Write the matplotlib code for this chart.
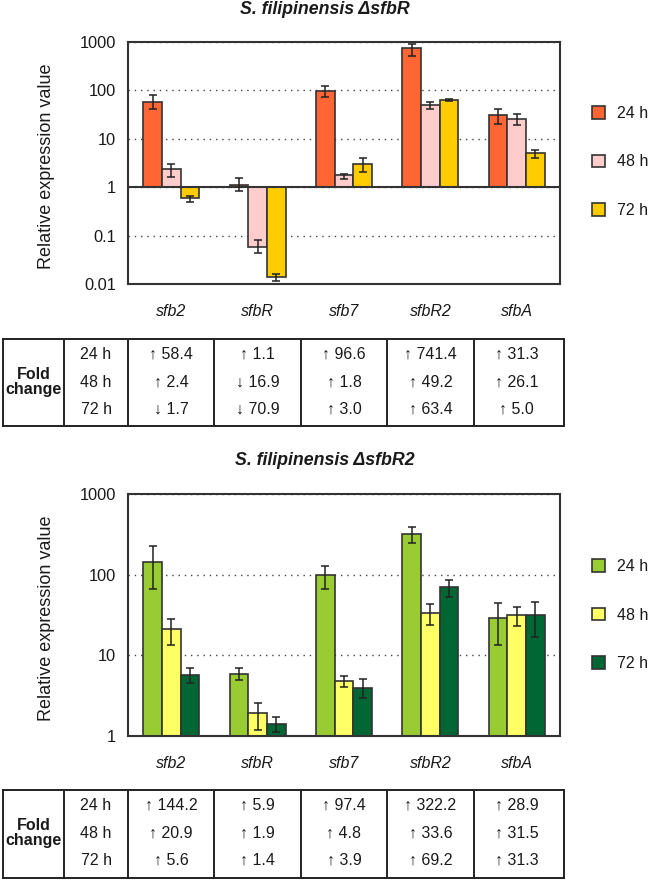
import matplotlib
matplotlib.use('Agg')
import matplotlib.pyplot as plt
from matplotlib.patches import Patch

plt.rcParams['font.family'] = ['Liberation Sans', 'DejaVu Sans']

genes = ['sfb2', 'sfbR', 'sfb7', 'sfbR2', 'sfbA']
times = ['24 h', '48 h', '72 h']

# ---- Panel A: S. filipinensis ΔsfbR ----
fold_A_24 = [58.4, 1.1, 96.6, 741.4, 31.3]
fold_A_48 = [2.4, 16.9, 1.8, 49.2, 26.1]
fold_A_72 = [1.7, 70.9, 3.0, 63.4, 5.0]
dir_A_24 = [1, 1, 1, 1, 1]
dir_A_48 = [1, -1, 1, 1, 1]
dir_A_72 = [-1, -1, 1, 1, 1]
errlo_A_24 = [42, 0.83, 74, 514, 20.3]
errhi_A_24 = [80, 1.56, 122, 897, 41.5]
errlo_A_48 = [1.66, 0.043, 1.49, 41, 19.3]
errhi_A_48 = [3.05, 0.081, 1.89, 57, 32]
errlo_A_72 = [0.50, 0.0116, 2.05, 60, 4.06]
errhi_A_72 = [0.65, 0.0164, 4.06, 67, 5.95]
colors_A = ['#FF6633', '#FFCCCC', '#FFCC00']
yticks_A = [0.01, 0.1, 1, 10, 100, 1000]
yticklabels_A = ['0.01', '0.1', '1', '10', '100', '1000']

# ---- Panel B: S. filipinensis ΔsfbR2 ----
fold_B_24 = [144.2, 5.9, 97.4, 322.2, 28.9]
fold_B_48 = [20.9, 1.9, 4.8, 33.6, 31.5]
fold_B_72 = [5.6, 1.4, 3.9, 69.2, 31.3]
dir_B_24 = [1, 1, 1, 1, 1]
dir_B_48 = [1, 1, 1, 1, 1]
dir_B_72 = [1, 1, 1, 1, 1]
errlo_B_24 = [65.5, 4.91, 65.5, 248, 13.3]
errhi_B_24 = [226, 6.98, 128.6, 392, 44.3]
errlo_B_48 = [13.3, 1.18, 4.05, 23.6, 23.2]
errhi_B_48 = [28.3, 2.57, 5.55, 43, 39.5]
errlo_B_72 = [4.47, 1.12, 2.94, 53, 16.9]
errhi_B_72 = [6.86, 1.69, 5.0, 85.5, 45.6]
colors_B = ['#99CC33', '#FFFF66', '#006633']
yticks_B = [1, 10, 100, 1000]
yticklabels_B = ['1', '10', '100', '1000']

W, H = 650, 881
FS = 11.5
EDGE = '#333333'
TXT = '#1a1a1a'

fig = plt.figure(figsize=(W / 100, H / 100), dpi=100)


def fx(px):
    return px / W


def fy(py):
    return 1 - py / H


def draw_panel(top_px, bot_px, folds, dirs, errlo, errhi, colors, yticks, yticklabels,
               title, title_px, legend_center_px, baseline):
    ax = fig.add_axes([fx(128), fy(bot_px), fx(560) - fx(128), fy(top_px) - fy(bot_px)])
    ax.set_yscale('log')
    ax.set_xlim(-0.5, 4.5)
    ax.set_ylim(yticks[0], yticks[-1])
    width = 0.216
    x = list(range(len(genes)))
    for k in range(3):
        vals = [f if d > 0 else 1.0 / f for f, d in zip(folds[k], dirs[k])]
        xs = [xi + (k - 1) * width for xi in x]
        ax.bar(xs, [v - 1 for v in vals], bottom=1, width=width, color=colors[k],
               edgecolor=EDGE, linewidth=1.2, zorder=2, label=times[k])
        lo = [v - l for v, l in zip(vals, errlo[k])]
        hi = [h - v for v, h in zip(vals, errhi[k])]
        ax.errorbar(xs, vals, yerr=[lo, hi], fmt='none', ecolor='#222222',
                    elinewidth=1.1, capsize=3, capthick=1.1, zorder=4)
    ax.minorticks_off()
    ax.set_yticks(yticks)
    ax.set_yticklabels(yticklabels, fontsize=11.8)
    ax.yaxis.set_minor_locator(matplotlib.ticker.NullLocator())
    ax.tick_params(axis='y', length=0, pad=8.6, colors=TXT)
    ax.set_xticks(x)
    ax.set_xticklabels(genes, style='italic', fontsize=FS)
    ax.tick_params(axis='x', length=0, pad=14.5, colors=TXT)
    ax.set_axisbelow(True)
    ax.grid(axis='y', linestyle=(0, (1, 3.5)), color='#444444', linewidth=1.0)
    if baseline:
        ax.axhline(1, color=EDGE, linewidth=1.5, zorder=3)
    for s in ax.spines.values():
        s.set_color(EDGE)
        s.set_linewidth(1.5)
    ax.set_ylabel('Relative expression value', fontsize=13, va='center', color=TXT)
    ax.yaxis.set_label_coords(fx(46.5), fy((top_px + bot_px) / 2 + 3), transform=fig.transFigure)
    fig.text(0.5, fy(title_px), title, ha='center', va='center', fontsize=12.8,
             fontweight='bold', style='italic', color=TXT)
    handles = [Patch(facecolor=c, edgecolor=EDGE, linewidth=1.2, label=t)
               for c, t in zip(colors, times)]
    ax.legend(handles=handles, loc='center left',
              bbox_to_anchor=(fx(592), fy(legend_center_px)), bbox_transform=fig.transFigure,
              frameon=False, fontsize=FS, handlelength=0.8, handleheight=0.8,
              handletextpad=0.75, labelspacing=2.1, borderpad=0, borderaxespad=0,
              labelcolor=TXT)
    return ax


def draw_table(top_px, bot_px, folds, dirs):
    h = bot_px - top_px
    t = fig.add_axes([fx(128), fy(bot_px), fx(560) - fx(128), fy(top_px) - fy(bot_px)])
    t.set_xlim(-0.5, 4.5)
    t.set_ylim(h, 0)
    t.axis('off')
    x_left, x_fold, x_time, x_right = -1.947, -1.24, -0.5, 4.546
    lw = 1.4
    for yy in (0, h):
        t.plot([x_left, x_right], [yy, yy], color='#222222', lw=lw, clip_on=False,
               solid_capstyle='projecting')
    for xx in [x_left, x_fold, x_time, 0.5, 1.5, 2.5, 3.5, x_right]:
        t.plot([xx, xx], [0, h], color='#222222', lw=lw, clip_on=False)
    rows_y = [15.5, 43.0, 70.5]
    t.text((x_left + x_fold) / 2, rows_y[1], 'Fold\nchange', ha='center', va='center',
           fontsize=FS, fontweight='bold', linespacing=1.05, color=TXT)
    for r in range(3):
        t.text((x_fold + x_time) / 2, rows_y[r], times[r], ha='center', va='center',
               fontsize=FS, color=TXT)
        for i in range(len(genes)):
            arrow = '\u2191' if dirs[r][i] > 0 else '\u2193'
            t.text(i, rows_y[r], f'{arrow} {folds[r][i]:.1f}', ha='center', va='center',
                   fontsize=FS, color=TXT)


draw_panel(42, 284, [fold_A_24, fold_A_48, fold_A_72], [dir_A_24, dir_A_48, dir_A_72],
           [errlo_A_24, errlo_A_48, errlo_A_72], [errhi_A_24, errhi_A_48, errhi_A_72],
           colors_A, yticks_A, yticklabels_A, 'S. filipinensis \u0394sfbR', 9.5, 162, True)
draw_table(339, 426, [fold_A_24, fold_A_48, fold_A_72], [dir_A_24, dir_A_48, dir_A_72])

draw_panel(494, 735.7, [fold_B_24, fold_B_48, fold_B_72], [dir_B_24, dir_B_48, dir_B_72],
           [errlo_B_24, errlo_B_48, errlo_B_72], [errhi_B_24, errhi_B_48, errhi_B_72],
           colors_B, yticks_B, yticklabels_B, 'S. filipinensis \u0394sfbR2', 460.5, 615, False)
draw_table(790, 877.7, [fold_B_24, fold_B_48, fold_B_72], [dir_B_24, dir_B_48, dir_B_72])

fig.savefig('out.png', dpi=100, facecolor='white')
